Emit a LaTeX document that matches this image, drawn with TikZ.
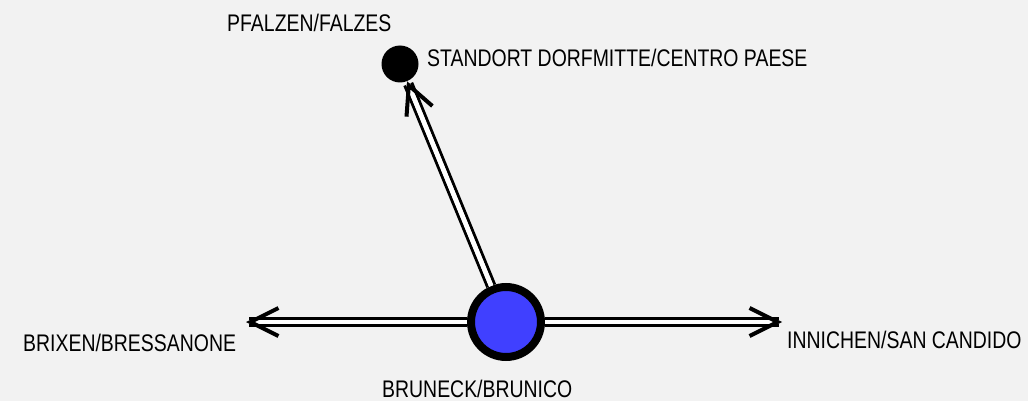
\documentclass[tikz,border=0pt]{standalone}
\usepackage{fontspec}
\setmainfont[FakeStretch=0.81]{Liberation Sans}
\usepackage{tikz}
\usetikzlibrary{arrows.meta,positioning}
\definecolor{bggray}{RGB}{242,242,242}
\definecolor{townblue}{RGB}{64,64,255}

\begin{document}
\begin{tikzpicture}[x=1pt,y=-1pt,
    road/.style={draw=black,line width=3pt,double=white,double distance=4.5pt,shorten >=3pt},
    roadtip/.style={draw=white,line width=4.5pt,
      -{Straight Barb[color=black,length=28pt 0 0,width=28pt 0 0,line width=4pt 0 0]}},
    town/.style={circle,draw=black,line width=8pt,fill=townblue,minimum size=70pt,inner sep=0pt},
    stop/.style={circle,fill=black,minimum size=37pt,inner sep=0pt},
    place/.style={font=\fontsize{24}{28}\selectfont,inner sep=0pt,anchor=base west}]
      \fill[bggray] (0,0) rectangle (1028,401);
      \node[town] (brunico) at (506,322) {};
      \node[stop] (falzes) at (400,64) {};
      \coordinate (brixen) at (246,322);
      \coordinate (innichen) at (782,322);
      \path (brunico) edge[road] (falzes) edge[roadtip] (falzes)
      (brunico) edge[road] (brixen) edge[roadtip] (brixen)
      (brunico) edge[road] (innichen) edge[roadtip] (innichen);
      \node[place] (falzeslbl) at (227,32) {PFALZEN/FALZES};
      \node[place] (centrolbl) at (427,67) {STANDORT DORFMITTE/CENTRO PAESE};
      \node[place] (brunicolbl) at (382,397) {BRUNECK/BRUNICO};
      \node[place] (brixenlbl) at (23,351) {BRIXEN/BRESSANONE};
      \node[place] (innichenlbl) at (787,348) {INNICHEN/SAN CANDIDO};
    \end{tikzpicture}
\end{document}
